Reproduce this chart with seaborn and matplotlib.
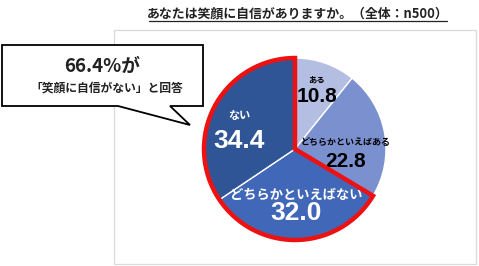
import numpy as np
import matplotlib
matplotlib.use("Agg")
import matplotlib.pyplot as plt
from matplotlib.patches import Wedge, Rectangle, Polygon
import seaborn as sns

# ---- data ----
categories = ["ある", "どちらかといえばある", "どちらかといえばない", "ない"]
values = [10.8, 22.8, 32.0, 34.4]
value_labels = ["10.8", "22.8", "32.0", "34.4"]
title = "あなたは笑顔に自信がありますか。（全体：n500）"
callout_big = "66.4%が"
callout_small = "「笑顔に自信がない」と回答"
highlight = ["どちらかといえばない", "ない"]

# ---- style ----
sns.set_theme(style="white")
plt.rcParams['font.family'] = ['Noto Sans CJK JP', 'DejaVu Sans']
colors = sns.color_palette(["#b3bee2", "#7b91cf", "#4168b8", "#2f5597"])
text_colors = ["black", "black", "white", "white"]
cat_sizes = [6, 6.5, 9.5, 8]
num_sizes = [15, 15, 19, 19]
pair_r = [0.72, 0.58, 0.585, 0.64]
pair_dxy = [(0.0, -0.02), (-0.02, -0.14), (0.0, -0.02), (-0.05, -0.08)]
pair_gap = [0.095, 0.105, 0.105, 0.145]

W, H = 479, 266
fig = plt.figure(figsize=(W / 100, H / 100), dpi=100)
fig.patch.set_facecolor("white")

# plot-area frame
frame = fig.add_axes([0, 0, 1, 1])
frame.set_xlim(0, W)
frame.set_ylim(H, 0)
frame.axis("off")
frame.add_patch(Rectangle((114, 30), 362, 234, fill=False, edgecolor="#d9d9d9", lw=0.9))

# title
frame.text(298, 13, title, ha="center", va="center", fontsize=9.3,
           fontweight="bold", color="#222222")
frame.plot([149, 447], [21, 21], color="#222222", lw=0.9)

# pie axes
cx, cy, R = 295, 149, 91
ax = fig.add_axes([(cx - R) / W, (H - cy - R) / H, 2 * R / W, 2 * R / H])
wedges, _ = ax.pie(values, colors=colors, startangle=90, counterclock=False,
                   radius=1.0, wedgeprops=dict(edgecolor="white", linewidth=1.0))
ax.set_xlim(-1, 1)
ax.set_ylim(-1, 1)
ax.axis("off")

# labels
for i, w in enumerate(wedges):
    mid = np.deg2rad((w.theta1 + w.theta2) / 2)
    px = pair_r[i] * np.cos(mid) + pair_dxy[i][0]
    py = pair_r[i] * np.sin(mid) + pair_dxy[i][1]
    ax.text(px, py + pair_gap[i], categories[i], ha="center", va="center",
            fontsize=cat_sizes[i], fontweight="bold", color=text_colors[i])
    ax.text(px, py - pair_gap[i] * 0.9, value_labels[i], ha="center", va="center",
            fontsize=num_sizes[i], fontweight="bold", color=text_colors[i],
            family=["Liberation Sans", "DejaVu Sans"])

# red outline around highlighted slices
idx = [categories.index(c) for c in highlight]
ths = [wedges[i].theta1 for i in idx] + [wedges[i].theta2 for i in idx]
ax.add_patch(Wedge((0, 0), 1.0, min(ths), max(ths), fill=False,
                   edgecolor="#ee1111", linewidth=3.2, joinstyle="miter",
                   clip_on=False, zorder=5))

# callout
over = fig.add_axes([0, 0, 1, 1])
over.set_xlim(0, W)
over.set_ylim(H, 0)
over.axis("off")
over.add_patch(Polygon([(2, 45), (203, 45), (203, 106), (170, 106), (190, 125),
                        (118, 106), (2, 106)], closed=True, facecolor="white",
                       edgecolor="black", lw=1.3, joinstyle="miter"))
over.text(102, 66, callout_big, ha="center", va="center", fontsize=13.5,
          fontweight="bold", color="#222222")
over.text(107, 88, callout_small, ha="center", va="center", fontsize=8.5,
          fontweight="bold", color="#222222")

fig.savefig("out.png", dpi=100)
